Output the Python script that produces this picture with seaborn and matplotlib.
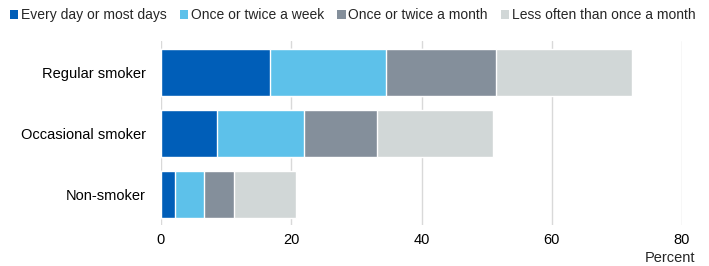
import matplotlib
matplotlib.use("Agg")
import matplotlib.pyplot as plt
import numpy as np
import pandas as pd
import seaborn as sns
from matplotlib.patches import Patch

# data (percent)
groups = ["Regular smoker", "Occasional smoker", "Non-smoker"]
series = ["Every day or most days", "Once or twice a week",
          "Once or twice a month", "Less often than once a month"]
every_day = [16.8, 8.6, 2.1]
weekly = [17.7, 13.3, 4.5]
monthly = [17.0, 11.3, 4.6]
less_often = [20.8, 17.7, 9.6]
colors = ["#005EB8", "#5DC1EA", "#848F9B", "#D1D7D7"]
x_ticks = [0, 20, 40, 60, 80]

sns.set_theme(style="white")
plt.rcParams["font.family"] = ["Liberation Sans", "DejaVu Sans"]

values = np.array([every_day, weekly, monthly, less_often])
cum = values.cumsum(axis=0)

fig = plt.figure(figsize=(7.09, 2.66), dpi=100)
ax = fig.add_axes([0.227, 0.154, 0.735, 0.69])

# stacked bars: draw the longest cumulative layer first
for i in range(len(series) - 1, -1, -1):
    df = pd.DataFrame({"group": groups, "value": cum[i]})
    sns.barplot(data=df, x="value", y="group", orient="h", color=colors[i],
                width=0.77, saturation=1, ax=ax, zorder=2)

ax.set_xlim(0, 80)
ax.set_xticks(x_ticks)
ax.xaxis.grid(True, color="#D9D9D9", linewidth=1, zorder=0)
ax.set_axisbelow(True)
for s in ax.spines.values():
    s.set_visible(False)
ax.set_xlabel("")
ax.set_ylabel("")
ax.tick_params(axis="both", length=0, labelsize=10.5, colors="#000000")
ax.tick_params(axis="x", pad=6)
ax.tick_params(axis="y", pad=11)

fig.text(0.981, 0.03, "Percent", ha="right", va="center", fontsize=10.5)

handles = [Patch(facecolor=c, edgecolor="none", label=s) for c, s in zip(colors, series)]
fig.legend(handles=handles, loc="upper left", bbox_to_anchor=(0.0, 1.005), ncol=4,
           frameon=False, fontsize=10.0, handlelength=0.6, handleheight=0.6,
           handletextpad=0.2, columnspacing=0.95, borderaxespad=0.3)

fig.savefig("out.png", dpi=100)
